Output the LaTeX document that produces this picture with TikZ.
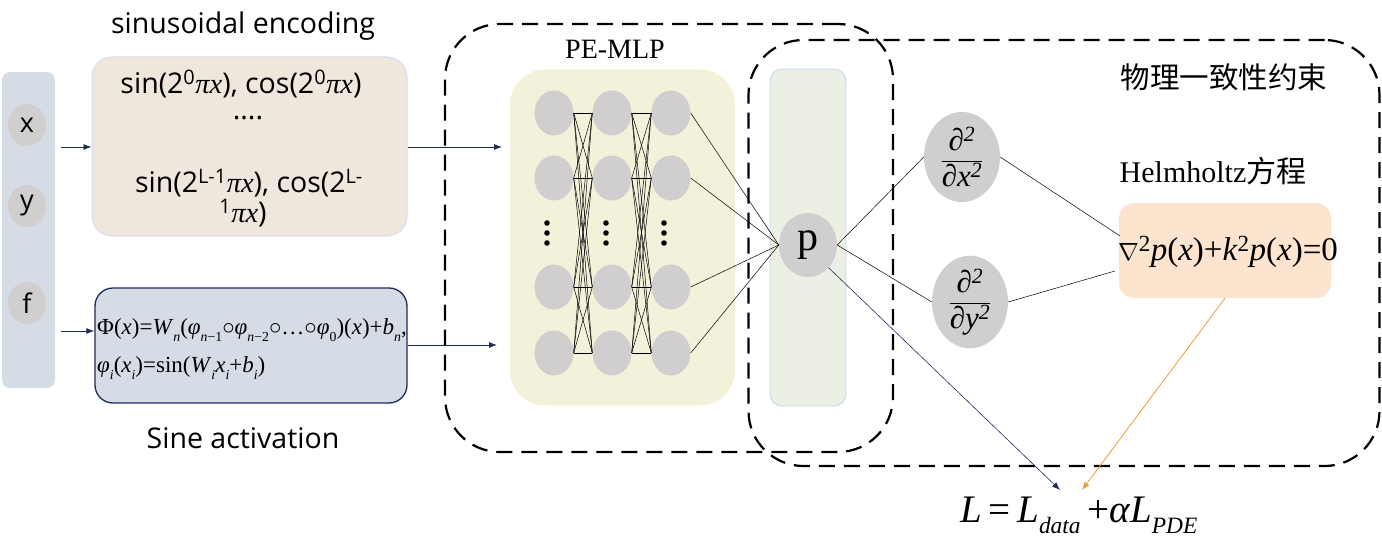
\documentclass[tikz,border=0pt]{standalone}
\usepackage{fontspec}
\setmainfont{Liberation Serif}
\setsansfont{Open Sans}
\newfontfamily\cjk{Noto Sans CJK SC}
\newfontfamily\serif{Liberation Serif}
\usetikzlibrary{arrows.meta,calc,shapes.geometric}
\definecolor{barblue}{HTML}{D6DCE5}
\definecolor{neurongray}{HTML}{D0CECE}
\definecolor{beige}{HTML}{EFE6DC}
\definecolor{lavender}{HTML}{DADAF0}
\definecolor{navy}{HTML}{1F2A5E}
\definecolor{paleyellow}{HTML}{F3F1DA}
\definecolor{palegreen}{HTML}{EBEFE4}
\definecolor{paleblue}{HTML}{C8D4F0}
\definecolor{peach}{HTML}{FCE4CF}
\definecolor{orangeline}{HTML}{ED9A3A}
\newcommand{\iv}[1]{\textit{#1}}
\newcommand{\sbs}[1]{\raisebox{-0.28em}{\fontsize{0.6em}{0.6em}\selectfont #1}}
\newcommand{\pfrac}[1]{$\displaystyle\frac{\hbox{\serif\itshape ∂\textsuperscript{2}}}{\hbox{\serif\itshape ∂#1\textsuperscript{2}}}$}
\begin{document}
\begin{tikzpicture}[x=1pt,y=-1pt,
  neuron/.style={ellipse,fill=neurongray,minimum width=39pt,minimum height=45pt,inner sep=0pt},
  incircle/.style={ellipse,fill=neurongray,minimum width=38pt,minimum height=42pt,inner sep=0pt,font=\sffamily\fontsize{27}{30}\selectfont},
  dashbox/.style={draw=black,line width=2.2pt,dash pattern=on 16pt off 9pt,rounded corners=55pt,inner sep=0pt},
  navyarrow/.style={draw=navy,line width=0.8pt,-{Latex[length=8pt,width=6pt]}},
  thinline/.style={draw=black,line width=0.5pt},
  sanslabel/.style={font=\sffamily\fontsize{28.5}{32}\selectfont},
  dnode/.style={ellipse,fill=neurongray,minimum width=76pt,minimum height=90pt,inner sep=0pt,font=\fontsize{31}{34}\selectfont},
]
\useasboundingbox (0,0) rectangle (1382,543);
% left input bar
\node[fill=barblue,rounded corners=8pt,minimum width=53pt,minimum height=316pt,inner sep=0pt] (bar) at (28.5,230) {};
\node[incircle] (cx) at (27,125) {x};
\node[incircle] (cy) at (27,206) {y};
\node[incircle] (cf) at (27,303) {f};
% sinusoidal encoding box
\node[fill=beige,draw=lavender,line width=1pt,rounded corners=20pt,minimum width=315pt,minimum height=179pt,inner sep=0pt] (enc) at (249.5,146.5) {};
\node[sanslabel] (enctitle) at (243,26) {sinusoidal encoding};
\node[sanslabel] (e1) at (241,84) {sin(2\textsuperscript{0}{\serif\itshape πx}), cos(2\textsuperscript{0}{\serif\itshape πx})};
\node[sanslabel] (e2) at (248,118) {....};
\node[sanslabel] (e3) at (249,183) {sin(2\textsuperscript{L-1}{\serif\itshape πx}), cos(2\textsuperscript{L-}};
\node[sanslabel] (e4) at (243,213) {\textsuperscript{1}{\serif\itshape πx})};
% sine activation box
\node[fill=barblue,draw=navy,line width=1.3pt,rounded corners=18pt,minimum width=312pt,minimum height=115pt,inner sep=0pt] (sine) at (251,345.5) {};
\node[font=\serif\fontsize{23}{38}\selectfont,align=left,anchor=west,inner sep=0pt] (sinef) at (97,349) {Φ(\iv{x})=\iv{W}\sbs{\iv{n}}(\iv{φ}\sbs{\iv{n}−1}$\circ$\iv{φ}\sbs{\iv{n}−2}$\circ$…$\circ$\iv{φ}\sbs{0})(\iv{x})+\iv{b}\sbs{\iv{n}},\\\iv{φ}\sbs{\iv{i}}(\iv{x}\sbs{\iv{i}})=sin(\iv{W}\sbs{\iv{i}}\iv{x}\sbs{\iv{i}}+\iv{b}\sbs{\iv{i}})};
\node[sanslabel] (sinetitle) at (243,438) {Sine activation};
% arrows from inputs
\coordinate (a1s) at (61,147);
\coordinate (a2s) at (61,331);
\draw[navyarrow] (a1s) -- (enc.west |- a1s);
\draw[navyarrow] (a2s) -- (sine.west |- a2s);
% PE-MLP
\node[dashbox,minimum width=448pt,minimum height=428pt] (pebox) at (669,238) {};
\node[font=\serif\fontsize{28}{30}\selectfont] (petitle) at (615,49) {PE-MLP};
\node[fill=paleyellow,rounded corners=35pt,minimum width=225pt,minimum height=336pt,inner sep=0pt] (ybox) at (622.5,237.5) {};
\node[fill=palegreen,draw=paleblue,line width=0.8pt,rounded corners=12pt,minimum width=76pt,minimum height=337pt,inner sep=0pt] (gbox) at (808,237.5) {};
% physics box
\node[dashbox,minimum width=631pt,minimum height=426pt] (phbox) at (1064,253) {};
\node[font=\cjk\fontsize{29.5}{32}\selectfont] (phtitle) at (1224,77) {物理一致性约束};
% arrows into MLP
\coordinate (t1) at (502,147);
\coordinate (t2) at (497,345);
\draw[navyarrow] (enc.east |- t1) -- (t1);
\draw[navyarrow] (sine.east |- t2) -- (t2);
% neurons
\foreach \c/\x in {1/554,2/612,3/671}{
  \foreach \r/\y in {1/113,2/178,3/287,4/353}{
    \node[neuron] (n\c\r) at (\x,\y) {};
  }
}
\foreach \x in {547,606,664}{
  \foreach \y in {223,233,243}{ \fill (\x,\y) circle (2.8pt); }
}
\foreach \i in {1,2,3,4}{
  \foreach \j in {1,2,3,4}{
    \draw[thinline] (n1\i.east) -- (n2\j.west);
    \draw[thinline] (n2\i.east) -- (n3\j.west);
  }
}
% p node
\node[ellipse,fill=neurongray,minimum width=58pt,minimum height=64pt,inner sep=0pt,font=\serif\fontsize{42}{42}\selectfont] (p) at (808,245) {p};
\foreach \r in {1,2,3,4}{ \draw[thinline] (n3\r.east) -- (p.west); }
% derivative nodes
\node[dnode] (dx) at (962,157) {\pfrac{x}};
\node[dnode] (dy) at (970,302) {\pfrac{y}};
% Helmholtz
\node[font=\serif\fontsize{30}{32}\selectfont] (htitle) at (1213,171) {Helmholtz{\cjk 方程}};
\node[fill=peach,rounded corners=15pt,minimum width=212pt,minimum height=95pt,inner sep=0pt] (hbox) at (1225,250.5) {};
\node[font=\serif\fontsize{33}{36}\selectfont,inner sep=0pt] (hform) at (1228,252) {$\nabla$\textsuperscript{2}\iv{p}(\iv{x})+\iv{k}\textsuperscript{2}\iv{p}(\iv{x})=0};
% connectors
\draw[thinline] (p.east) -- (dx.west);
\draw[thinline] (p.east) -- (dy.west);
\coordinate (h1) at (1120,236);
\coordinate (h2) at (1115,271);
\draw[thinline] (dx.east) -- (h1);
\draw[thinline] (dy.east) -- (h2);
% loss
\node[font=\serif\fontsize{39}{40}\selectfont,inner sep=0pt] (loss) at (1079,515) {\iv{L}\,=\,\iv{L}\sbs{\iv{data}}\,+\iv{α}\iv{L}\sbs{\iv{PDE}}};
\coordinate (lt1) at (1060,490);
\coordinate (lt2) at (1082,490);
\draw[navyarrow,line width=0.6pt] (p.south east) -- (lt1);
\draw[draw=orangeline,line width=0.8pt,-{Latex[length=8pt,width=6pt]}] (hbox.south) -- (lt2);
\end{tikzpicture}
\end{document}
